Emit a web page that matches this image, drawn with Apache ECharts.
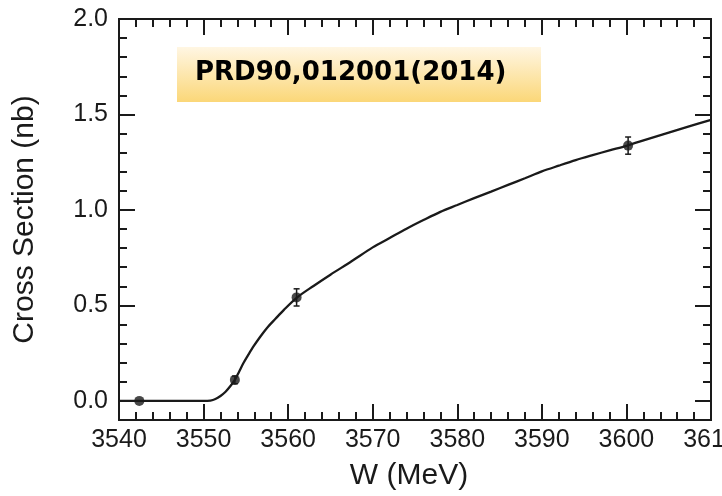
<!DOCTYPE html>
<html>
<head>
<meta charset="utf-8">
<script src="https://cdn.jsdelivr.net/npm/echarts@6/dist/echarts.min.js"></script>
<style>
html,body{margin:0;padding:0;background:#fff;}
#chart{width:722px;height:496px;}
</style>
</head>
<body>
<div id="chart"></div>
<script>
// Fitted curve (W in MeV, cross section in nb)
var curveW = [3540, 3545, 3550, 3550.8, 3551.4, 3552, 3552.6, 3553.2, 3553.7, 3554.2, 3554.7, 3555.3, 3555.9, 3556.7, 3557.5, 3558.5, 3559.5, 3561, 3563, 3565, 3567.5, 3570, 3572, 3574, 3576, 3578, 3580, 3582, 3584, 3586, 3588, 3590, 3592, 3594, 3596, 3598, 3600, 3602.5, 3605, 3607.5, 3610];
var curveSigma = [0, 0, 0, 0.002, 0.010, 0.026, 0.048, 0.079, 0.11, 0.153, 0.197, 0.242, 0.285, 0.336, 0.382, 0.43, 0.477, 0.54, 0.602, 0.661, 0.731, 0.804, 0.853, 0.902, 0.947, 0.99, 1.026, 1.062, 1.096, 1.131, 1.166, 1.202, 1.232, 1.261, 1.287, 1.312, 1.336, 1.371, 1.405, 1.439, 1.472];
// Measured points
var pointW = [3542.4, 3553.7, 3561.0, 3600.2];
var pointSigma = [0.0, 0.11, 0.542, 1.337];
var pointErr = [0.0, 0.02, 0.045, 0.045];
// Axis ticks
var yMajorTicks = [0, 0.5, 1.0, 1.5, 2.0];
var annotationText = 'PRD90,012001(2014)';

var FONT = "'Liberation Sans', Arial, Helvetica, sans-serif";
var INK = '#1a1a1a';

var chart = echarts.init(document.getElementById('chart'), null, {renderer: 'canvas'});

function xAx(pos, labels) {
  return {
    type: 'value', position: pos, min: 3540, max: 3610, interval: 10,
    axisLine: {show: true, onZero: false, lineStyle: {color: INK, width: 2}},
    axisTick: {show: true, inside: true, length: 16, lineStyle: {color: INK, width: 2}},
    minorTick: {show: true, splitNumber: 5, length: 8, lineStyle: {color: INK, width: 2}},
    axisLabel: {show: labels, margin: 8, fontSize: 25, color: INK, fontFamily: FONT, hideOverlap: false,
      formatter: function (v) { return String(v); }},
    splitLine: {show: false},
    name: labels ? 'W (MeV)' : '', nameLocation: 'middle', nameGap: 41,
    nameTextStyle: {fontSize: 30, color: INK, fontFamily: FONT, padding: [0, 12, 0, 0]}
  };
}
function yMajor(pos, labels) {
  return {
    type: 'value', position: pos, min: -0.1, max: 2.0, interval: 0.1,
    axisLine: {show: true, onZero: false, lineStyle: {color: INK, width: 2}},
    axisTick: {show: true, inside: true, length: 16, customValues: yMajorTicks, lineStyle: {color: INK, width: 2}},
    axisLabel: {show: labels, customValues: yMajorTicks, margin: 11, fontSize: 25, color: INK, fontFamily: FONT,
      formatter: function (v) { return (+v).toFixed(1); }},
    splitLine: {show: false},
    name: labels ? 'Cross Section (nb)' : '', nameLocation: 'middle', nameGap: 79, nameRotate: 90,
    nameTextStyle: {fontSize: 30, color: INK, fontFamily: FONT}
  };
}
function yMinor(pos) {
  return {
    type: 'value', position: pos, min: -0.1, max: 2.0, interval: 0.1,
    axisLine: {show: true, onZero: false, lineStyle: {color: INK, width: 2}},
    axisTick: {show: true, inside: true, length: 8, lineStyle: {color: INK, width: 2}},
    axisLabel: {show: false},
    splitLine: {show: false}
  };
}

var option = {
  animation: false,
  backgroundColor: '#ffffff',
  grid: {left: 119, right: 11, top: 19, bottom: 76, containLabel: false, outerBoundsMode: 'none'},
  xAxis: [xAx('bottom', true), xAx('top', false)],
  yAxis: [yMajor('left', true), yMinor('left'), yMajor('right', false), yMinor('right')],
  graphic: [
    {
      type: 'rect', left: 177, top: 47, z: 10,
      shape: {width: 364, height: 55},
      style: {
        fill: new echarts.graphic.LinearGradient(0, 0, 0, 1, [
          {offset: 0, color: '#fff6e3'},
          {offset: 1, color: '#fbd778'}
        ])
      }
    },
    {
      type: 'text', left: 195, top: 60, z: 11,
      style: {text: annotationText, fill: '#000', font: "bold 26px 'Comic Sans MS', 'DejaVu Sans', sans-serif"}
    }
  ],
  series: [
    {
      type: 'line', xAxisIndex: 0, yAxisIndex: 0,
      data: curveW.map(function (w, i) { return [w, curveSigma[i]]; }),
      showSymbol: false, smooth: 0.3,
      lineStyle: {color: INK, width: 2.3}, z: 3
    },
    {
      type: 'custom', xAxisIndex: 0, yAxisIndex: 0, z: 4,
      data: pointW.map(function (w, i) { return [w, pointSigma[i], pointErr[i]]; }),
      renderItem: function (params, api) {
        var x = api.value(0), y = api.value(1), e = api.value(2);
        if (!e) return null;
        var lo = api.coord([x, y - e]), hi = api.coord([x, y + e]);
        var cw = 3;
        var st = {stroke: INK, lineWidth: 1.5};
        return {type: 'group', children: [
          {type: 'line', shape: {x1: lo[0], y1: lo[1], x2: hi[0], y2: hi[1]}, style: st},
          {type: 'line', shape: {x1: lo[0] - cw, y1: lo[1], x2: lo[0] + cw, y2: lo[1]}, style: st},
          {type: 'line', shape: {x1: hi[0] - cw, y1: hi[1], x2: hi[0] + cw, y2: hi[1]}, style: st}
        ]};
      }
    },
    {
      type: 'scatter', xAxisIndex: 0, yAxisIndex: 0, z: 5,
      data: pointW.map(function (w, i) { return [w, pointSigma[i]]; }),
      symbol: 'circle', symbolSize: 10,
      itemStyle: {color: INK}
    }
  ]
};
chart.setOption(option);
</script>
</body>
</html>
